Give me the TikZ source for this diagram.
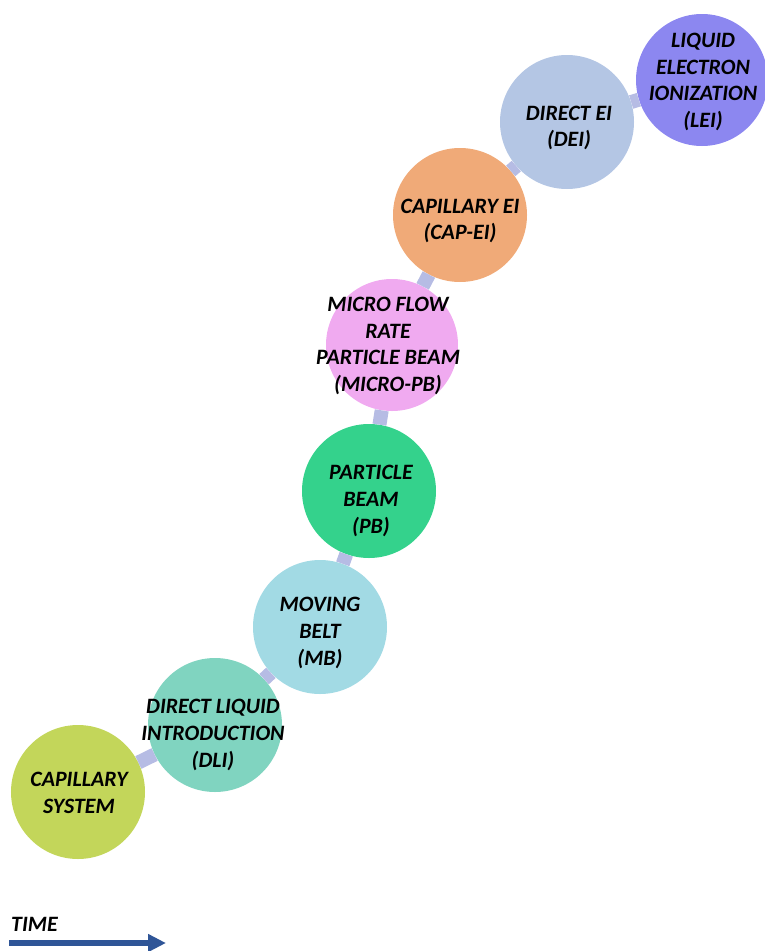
\documentclass[tikz,border=0pt]{standalone}
\usepackage{fontspec}
\setmainfont{Carlito}
\usetikzlibrary{arrows.meta}
\definecolor{capsys}{RGB}{195,214,90}
\definecolor{dliteal}{RGB}{128,212,192}
\definecolor{beltblue}{RGB}{162,218,228}
\definecolor{beamgreen}{RGB}{52,210,140}
\definecolor{micropink}{RGB}{240,170,240}
\definecolor{eiorange}{RGB}{240,170,120}
\definecolor{deisteel}{RGB}{180,198,228}
\definecolor{leipurple}{RGB}{140,135,240}
\definecolor{linkblue}{RGB}{182,188,228}
\definecolor{timeblue}{RGB}{47,85,151}

\begin{document}
\begin{tikzpicture}[x=1bp, y=-1bp,
  stage/.style={circle, minimum size=134bp, inner sep=0pt},
  caption/.style={font=\fontsize{22}{27}\selectfont\bfseries\itshape, align=center, inner sep=0pt},
  link/.style={draw=linkblue, line width=14bp}]
  \useasboundingbox (0,0) rectangle (765,951);
  % circles, oldest at the bottom left
  \node[stage, fill=capsys] (cap) at (78,792) {};
  \node[stage, fill=dliteal] (dli) at (215,725) {};
  \node[stage, fill=beltblue] (mb) at (320,627) {};
  \node[stage, fill=beamgreen] (pb) at (369,491) {};
  \node[stage, fill=micropink, minimum size=132bp] (mpb) at (392,345) {};
  \node[stage, fill=eiorange] (capei) at (460,215) {};
  \node[stage, fill=deisteel] (dei) at (567,122) {};
  \node[stage, fill=leipurple, minimum size=132bp] (lei) at (702,80) {};
  \draw[link] (cap) -- (dli);
  \draw[link] (dli) -- (mb);
  \draw[link] (mb) -- (pb);
  \draw[link] (pb) -- (mpb);
  \draw[link] (mpb) -- (capei);
  \draw[link] (capei) -- (dei);
  \draw[link] (dei) -- (lei);
  % labels
  \node[caption] (capt) at (79,793) {CAPILLARY\\SYSTEM};
  \node[caption] (dlit) at (213,735) {DIRECT LIQUID\\INTRODUCTION\\(DLI)};
  \node[caption] (mbt) at (320,633) {MOVING\\BELT\\(MB)};
  \node[caption] (pbt) at (371,501) {PARTICLE\\BEAM\\(PB)};
  \node[caption] (mpbt) at (388,346) {MICRO FLOW\\RATE\\PARTICLE BEAM\\(MICRO-PB)};
  \node[caption] (capeit) at (460,221) {CAPILLARY EI\\(CAP-EI)};
  \node[caption] (deit) at (569,128) {DIRECT EI\\(DEI)};
  \node[caption] (leit) at (703,82) {LIQUID\\ELECTRON\\IONIZATION\\(LEI)};
  % time axis
  \node[font=\fontsize{22}{26}\selectfont\bfseries\itshape, anchor=base west, inner sep=0pt] (time) at (11,931) {TIME};
  \coordinate (t0) at (9,943);
  \coordinate (t1) at (166,943);
  \draw[timeblue, line width=6bp, -{Triangle[length=18bp,width=17bp]}] (t0) -- (t1);
\end{tikzpicture}
\end{document}
